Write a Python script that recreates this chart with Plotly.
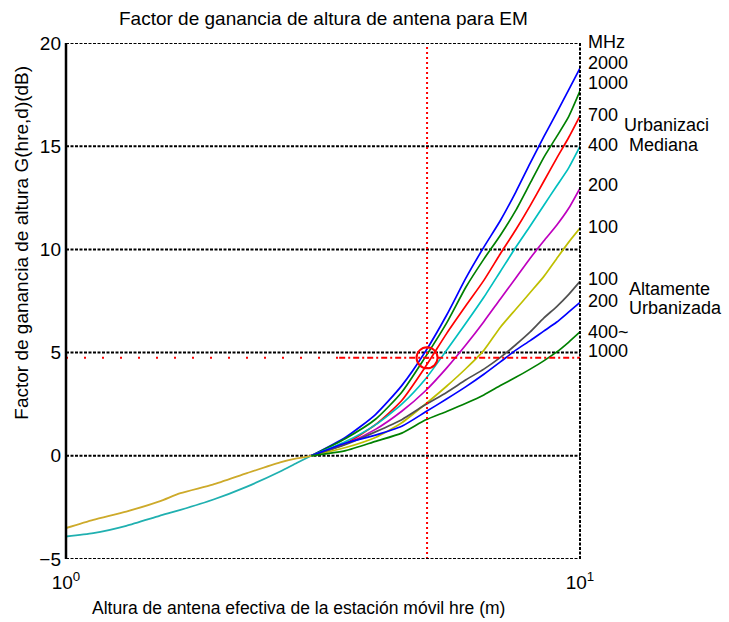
import plotly.graph_objects as go

# Antenna heights (m) above 3 m, where the curves depend on frequency
h_alto = [3, 3.5, 4, 4.5, 5, 5.5, 6, 6.5, 7, 7.5, 8, 8.5, 9, 9.5, 10]

# Medium urbanisation (MHz: 2000, 1000, 700, 400, 200, 100)
g_2000 = [0, 0.90, 2.00, 3.40, 5.04, 6.81, 8.62, 10.11, 11.40, 12.78, 14.18, 15.45, 16.60, 17.72, 18.78]
g_1000 = [0, 0.84, 1.77, 3.08, 4.78, 6.43, 8.18, 9.53, 10.69, 11.89, 13.21, 14.45, 15.45, 16.42, 17.68]
g_700 = [0, 0.60, 1.51, 2.68, 4.30, 5.92, 7.28, 8.50, 9.79, 10.95, 12.12, 13.29, 14.40, 15.41, 16.47]
g_400 = [0, 0.69, 1.50, 2.50, 3.71, 5.11, 6.43, 7.68, 8.93, 10.10, 11.13, 12.13, 13.06, 13.94, 14.99]
g_200 = [0, 0.57, 1.28, 2.16, 3.14, 4.25, 5.38, 6.50, 7.60, 8.61, 9.57, 10.41, 11.16, 11.98, 12.97]
g_100 = [0, 0.40, 0.89, 1.60, 2.50, 3.37, 4.23, 5.11, 6.23, 7.10, 7.91, 8.68, 9.54, 10.34, 11.03]

# Highly urbanised (MHz: 100, 200, 400~1000)
g_a100 = [0, 0.55, 1.16, 1.75, 2.47, 3.07, 3.68, 4.20, 4.77, 5.38, 6.00, 6.67, 7.22, 7.81, 8.45]
g_a200 = [0, 0.62, 1.00, 1.43, 2.12, 2.75, 3.35, 3.95, 4.55, 5.12, 5.58, 6.04, 6.47, 6.96, 7.43]
g_a400 = [0, 0.25, 0.70, 1.10, 1.73, 2.15, 2.55, 2.95, 3.40, 3.80, 4.20, 4.60, 5.02, 5.50, 6.00]

# Below 3 m the gain does not depend on frequency: two curves only
h_bajo = [1, 1.13, 1.31, 1.52, 1.67, 1.93, 2.25, 2.61, 2.81, 3]
g_bajo_sup = [-3.50, -3.10, -2.70, -2.21, -1.81, -1.40, -0.84, -0.32, -0.13, 0]
g_bajo_inf = [-3.91, -3.75, -3.39, -2.91, -2.62, -2.13, -1.49, -0.76, -0.35, 0]

# Operating point marked on the chart
h_punto = 5.04
g_punto = 4.75

y_ticks = [-5, 0, 5, 10, 15, 20]
x_ticks = [1, 10]
x_ticktext = ["10<sup>0</sup>", "10<sup>1</sup>"]

etiquetas_mhz = ["MHz", "2000", "1000", "700", "400", "200", "100", "100", "200", "400~", "1000"]
etiquetas_y = [20.07, 19.03, 18.06, 16.52, 15.07, 13.13, 11.08, 8.56, 7.48, 6.02, 5.09]
grupos = ["Urbanizaci", "Mediana", "Altamente", "Urbanizada"]
grupos_y = [16.04, 15.07, 8.08, 7.16]
grupos_dx = [42, 47, 47, 47]

Y_MIN, Y_MAX = -5, 20
FONT = "Liberation Sans, Arial, sans-serif"


def y_paper(v):
    # position along the y axis as a fraction of the plot height
    return (v - Y_MIN) / (Y_MAX - Y_MIN)


series = [
    (g_2000, "#0000FF"), (g_1000, "#008000"), (g_700, "#FF0000"),
    (g_400, "#00BFBF"), (g_200, "#BF00BF"), (g_100, "#BFBF00"),
    (g_a100, "#505050"), (g_a200, "#0000FF"), (g_a400, "#008000"),
]

fig = go.Figure()

for g, col in series:
    fig.add_trace(go.Scatter(x=h_alto, y=g, mode="lines",
                             line=dict(color=col, width=1.7, shape="spline", smoothing=0.6),
                             showlegend=False))

fig.add_trace(go.Scatter(x=h_bajo, y=g_bajo_inf, mode="lines",
                         line=dict(color="#20B0B0", width=1.8, shape="spline", smoothing=0.6),
                         showlegend=False))
fig.add_trace(go.Scatter(x=h_bajo, y=g_bajo_sup, mode="lines",
                         line=dict(color="#CDAA2A", width=1.8, shape="spline", smoothing=0.6),
                         showlegend=False))

# Red guide lines through the operating point
fig.add_trace(go.Scatter(x=[h_punto, h_punto], y=[Y_MIN, Y_MAX], mode="lines",
                         line=dict(color="#FF0000", width=2, dash="2px,3px"),
                         showlegend=False))
fig.add_trace(go.Scatter(x=[1, 3.4], y=[g_punto, g_punto], mode="lines",
                         line=dict(color="#FF0000", width=2, dash="2px,16px"),
                         showlegend=False))
fig.add_trace(go.Scatter(x=[3.4, 10.13], y=[g_punto, g_punto], mode="lines",
                         line=dict(color="#FF0000", width=2, dash="6px,3px,2px,3px"),
                         showlegend=False, cliponaxis=False))
fig.add_trace(go.Scatter(x=[h_punto], y=[g_punto], mode="markers",
                         marker=dict(symbol="circle-open", size=21, color="#FF0000",
                                     line=dict(color="#FF0000", width=2)),
                         showlegend=False, cliponaxis=False))

shapes = []
grid = dict(color="black", width=2, dash="3px,1.5px")
for v in [0, 5, 10, 15]:
    shapes.append(dict(type="line", xref="paper", yref="y", x0=0, x1=1, y0=v, y1=v,
                       line=grid, layer="below"))
for v in [Y_MIN, Y_MAX]:
    shapes.append(dict(type="line", xref="paper", yref="y", x0=0, x1=1, y0=v, y1=v,
                       line=grid, layer="above"))
shapes.append(dict(type="line", xref="paper", yref="paper", x0=1, x1=1, y0=0, y1=1,
                   line=grid, layer="above"))
shapes.append(dict(type="line", xref="paper", yref="paper", x0=0, x1=0, y0=0, y1=1,
                   line=dict(color="black", width=2.5), layer="above"))

annotations = []
for txt, yv in zip(etiquetas_mhz, etiquetas_y):
    annotations.append(dict(text=txt, xref="paper", yref="paper", x=1, y=y_paper(yv),
                            xanchor="left", yanchor="middle", xshift=6,
                            showarrow=False, font=dict(family=FONT, size=18, color="black")))
for txt, yv, dx in zip(grupos, grupos_y, grupos_dx):
    annotations.append(dict(text=txt, xref="paper", yref="paper", x=1, y=y_paper(yv),
                            xanchor="left", yanchor="middle", xshift=dx,
                            showarrow=False, font=dict(family=FONT, size=18, color="black")))

annotations.append(dict(text="Factor de ganancia de altura de antena para EM",
                        xref="paper", yref="paper", x=0.5, y=1, yshift=25,
                        xanchor="center", yanchor="middle", showarrow=False,
                        font=dict(family=FONT, size=19, color="black")))
annotations.append(dict(text="Altura de antena efectiva de la estación móvil hre (m)",
                        xref="paper", yref="paper", x=0.453, y=0, yshift=-49,
                        xanchor="center", yanchor="middle", showarrow=False,
                        font=dict(family=FONT, size=17.5, color="black")))
annotations.append(dict(text="Factor de ganancia de altura G(hre,d)(dB)",
                        xref="paper", yref="paper", x=0, y=0.613, xshift=-44,
                        xanchor="center", yanchor="middle", textangle=-90, showarrow=False,
                        font=dict(family=FONT, size=19, color="black")))

fig.update_layout(
    width=729, height=622,
    margin=dict(l=66, r=149, t=43, b=63),
    paper_bgcolor="white", plot_bgcolor="white",
    showlegend=False,
    shapes=shapes, annotations=annotations,
    xaxis=dict(type="log", range=[0, 1], tickvals=x_ticks, ticktext=x_ticktext,
               showgrid=False, zeroline=False, showline=False, ticks="",
               ticklabelstandoff=10,
               tickfont=dict(family=FONT, size=19, color="black")),
    yaxis=dict(range=[Y_MIN, Y_MAX], tickvals=y_ticks, showgrid=False, zeroline=False,
               showline=False, ticks="", ticklabelstandoff=4,
               tickfont=dict(family=FONT, size=19, color="black")),
)

fig.write_html("out.html")
